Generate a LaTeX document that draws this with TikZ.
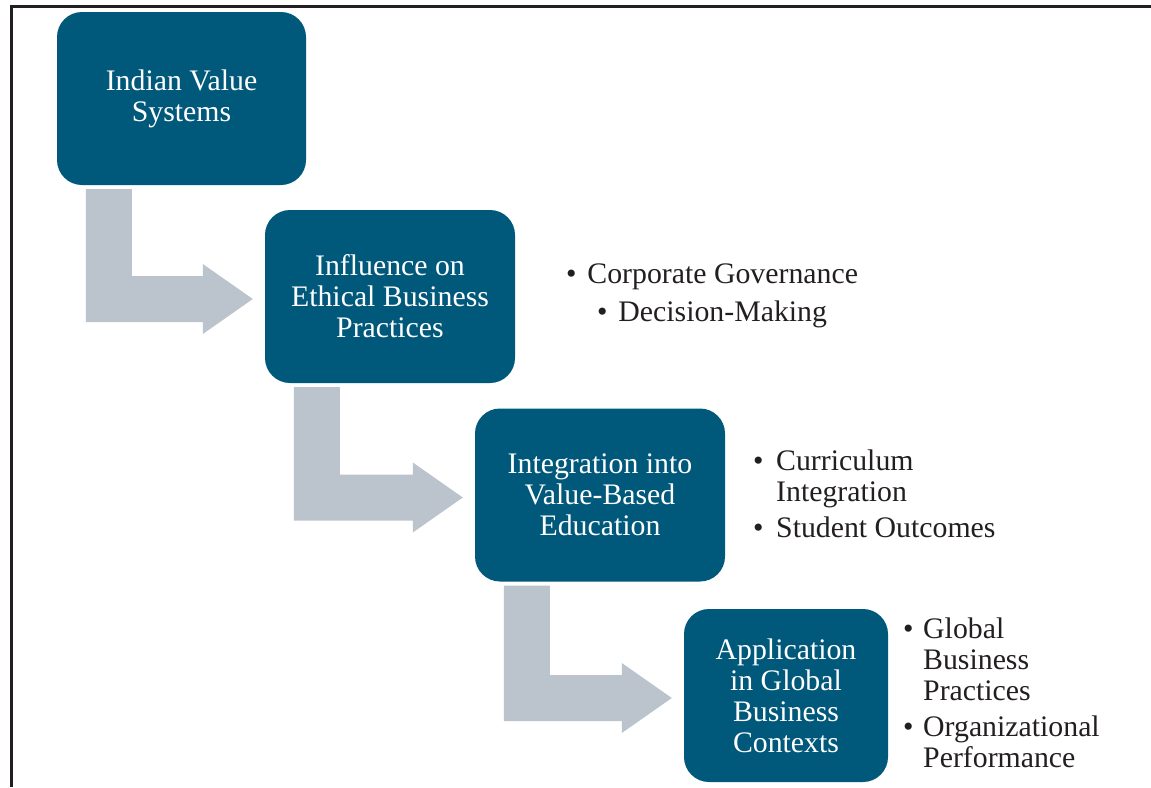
\documentclass[tikz,border=0pt]{standalone}
\usepackage{fontspec}
\setmainfont{Liberation Serif}
\usetikzlibrary{calc}
\definecolor{boxblue}{RGB}{0,88,122}
\definecolor{arrowgray}{RGB}{187,195,204}
\definecolor{inkdark}{RGB}{35,31,32}
\newcommand\elbowarrow[2]{%
  \fill[arrowgray] let \p1=(#1.south west), \p2=(#2.west) in
    ({\x1+29pt},{\y1-4pt}) -- ({\x1+75pt},{\y1-4pt}) -- ({\x1+75pt},{\y2+20.5pt})
    -- ({\x2-62pt},{\y2+20.5pt}) -- ({\x2-62pt},{\y2+32.5pt}) -- ({\x2-12pt},{\y2-2.5pt})
    -- ({\x2-62pt},{\y2-37.5pt}) -- ({\x2-62pt},{\y2-25.5pt}) -- ({\x1+29pt},{\y2-25.5pt}) -- cycle;}
\begin{document}
\begin{tikzpicture}[x=1pt,y=-1pt,
  stage/.style={fill=boxblue, rounded corners=25pt, text=white,
    font=\fontsize{29.8}{31}\selectfont, align=center, minimum height=173pt, inner sep=0pt},
  bul/.style={text=inkdark, font=\fontsize{29.8}{31}\selectfont, inner sep=0pt}]
\useasboundingbox (0,0) rectangle (1151,787);
\draw[inkdark, line width=3pt] (11,787) -- (11,6) -- (1151,6);

\node[stage, minimum width=249pt] (b1) at (181.5,98.5) {Indian Value\\Systems};
\node[stage, minimum width=250pt] (b2) at (390,296.5) {Influence on\\Ethical Business\\Practices};
\node[stage, minimum width=250pt] (b3) at (600,495) {Integration into\\Value-Based\\Education};
\node[stage, minimum width=204pt] (b4) at (786,695.5) {Application\\in Global\\Business\\Contexts};

\elbowarrow{b1}{b2}
\elbowarrow{b2}{b3}
\elbowarrow{b3}{b4}

\node[bul, anchor=base] (l1) at (712,283) {\textbullet\hspace{11pt}Corporate Governance};
\node[bul, anchor=base] (l2) at (712,321) {\textbullet\hspace{11pt}Decision-Making};

\node[bul, anchor=base west] (d1) at (753,470) {\textbullet};
\node[bul, anchor=base west] (t1) at (776,470) {Curriculum};
\node[bul, anchor=base west] (t2) at (776,501) {Integration};
\node[bul, anchor=base west] (d2) at (753,537) {\textbullet};
\node[bul, anchor=base west] (t3) at (776,537) {Student Outcomes};

\node[bul, anchor=base west] (d3) at (903,638) {\textbullet};
\node[bul, anchor=base west] (t4) at (923,638) {Global};
\node[bul, anchor=base west] (t5) at (923,669) {Business};
\node[bul, anchor=base west] (t6) at (923,700) {Practices};
\node[bul, anchor=base west] (d4) at (903,736) {\textbullet};
\node[bul, anchor=base west] (t7) at (923,736) {Organizational};
\node[bul, anchor=base west] (t8) at (923,767) {Performance};
\end{tikzpicture}
\end{document}
